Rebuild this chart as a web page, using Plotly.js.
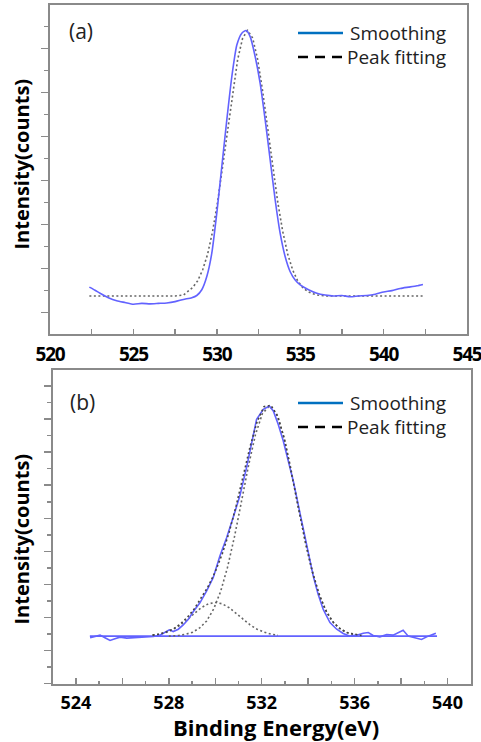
<!DOCTYPE html>
<html>
<head>
<meta charset="utf-8">
<script src="https://cdn.plot.ly/plotly-3.0.1.min.js"></script>
<style>
html,body{margin:0;padding:0;background:#fff;}
#chart{width:481px;height:742px;}
</style>
</head>
<body>
<div id="chart"></div>
<script>
// ---------- Panel (a) ----------
const aSmoothX = [522.36,522.7,523.0,523.5,524.0,524.5,525.0,525.5,526.0,526.5,527.0,527.5,528.0,528.5,528.8,529.1,529.4,529.7,530.0,530.3,530.6,530.9,531.2,531.5,531.76,532.0,532.3,532.6,532.9,533.2,533.5,533.8,534.1,534.4,534.7,535.0,535.5,536.0,536.5,537.0,537.5,538.0,538.5,539.0,539.5,540.0,540.5,541.0,541.5,542.0,542.36];
const aSmoothY = [0.58,0.51,0.44,0.34,0.27,0.23,0.19,0.21,0.20,0.21,0.22,0.25,0.30,0.34,0.39,0.52,0.82,1.35,2.26,3.32,4.38,5.36,6.08,6.35,6.41,6.27,5.82,5.21,4.38,3.47,2.56,1.80,1.27,0.93,0.74,0.63,0.52,0.44,0.40,0.38,0.39,0.36,0.38,0.39,0.42,0.47,0.50,0.55,0.58,0.61,0.64];
const aFitX = [522.36,524.0,526.0,527.5,528.0,528.25,528.55,528.85,529.15,529.45,529.75,530.05,530.35,530.65,530.95,531.25,531.55,531.85,532.15,532.45,532.75,533.05,533.35,533.65,533.95,534.25,534.55,534.85,535.15,535.45,535.75,536.05,536.5,538.0,540.0,542.36];
const aFitY = [0.38,0.38,0.38,0.38,0.40,0.48,0.57,0.72,0.97,1.33,1.85,2.52,3.32,4.18,5.03,5.75,6.24,6.41,6.24,5.75,5.03,4.18,3.32,2.52,1.85,1.33,0.97,0.72,0.57,0.48,0.43,0.40,0.38,0.38,0.38,0.38];

// ---------- Panel (b) ----------
const bSmoothX = [524.61,524.82,525.04,525.25,525.47,525.68,525.9,526.19,526.47,526.76,527.05,527.33,527.62,527.83,528.02,528.19,528.41,528.62,528.84,529.05,529.34,529.63,529.91,530.2,530.49,530.77,531.06,531.35,531.57,531.78,532.07,532.33,532.5,532.71,532.93,533.14,533.36,533.57,533.79,534.0,534.22,534.43,534.65,534.94,535.23,535.51,535.8,536.09,536.37,536.59,536.8,537.09,537.38,537.66,537.88,538.09,538.31,538.6,538.88,539.17,539.5];
const bSmoothY = [0.38,0.41,0.46,0.38,0.30,0.35,0.40,0.37,0.38,0.41,0.40,0.42,0.46,0.54,0.62,0.57,0.64,0.77,0.94,1.17,1.44,1.80,2.20,2.86,3.41,4.02,4.68,5.54,6.29,7.00,7.30,7.40,7.25,6.85,6.34,5.79,5.13,4.42,3.72,2.96,2.25,1.70,1.24,0.84,0.64,0.51,0.43,0.46,0.52,0.54,0.45,0.41,0.48,0.46,0.53,0.61,0.43,0.38,0.33,0.43,0.52];
const bBaseX = [524.6,539.55];
const bBaseY = [0.43,0.43];
const bMainX = [528.0,528.43,528.73,529.03,529.33,529.63,529.93,530.23,530.53,530.83,531.13,531.43,531.73,532.03,532.33,532.63,532.93,533.23,533.53,533.83,534.13,534.43,534.73,535.03,535.33,535.63,535.93,536.23];
const bMainY = [0.43,0.45,0.49,0.55,0.68,0.89,1.25,1.78,2.52,3.45,4.51,5.59,6.53,7.17,7.40,7.17,6.53,5.59,4.51,3.45,2.52,1.78,1.25,0.89,0.68,0.55,0.49,0.45];
const bSmallX = [527.3,527.6,527.9,528.2,528.5,528.8,529.1,529.4,529.7,530.0,530.3,530.6,530.9,531.2,531.5,531.8,532.1,532.4,532.7];
const bSmallY = [0.46,0.49,0.55,0.64,0.77,0.93,1.12,1.29,1.41,1.45,1.41,1.29,1.12,0.93,0.77,0.64,0.55,0.49,0.46];
const bEnvX = [527.3,527.6,527.9,528.2,528.5,528.8,529.1,529.4,529.7,530.0,530.3,530.6,530.9,531.2,531.5,531.8,532.1,532.4,532.7,533.0,533.3,533.6,533.9,534.2,534.5,534.8,535.1,535.4,535.7,536.0,536.3];
const bEnvY = [0.46,0.49,0.56,0.65,0.80,1.00,1.26,1.58,1.94,2.38,2.92,3.58,4.38,5.27,6.17,6.92,7.38,7.42,7.08,6.33,5.34,4.26,3.22,2.33,1.64,1.15,0.83,0.64,0.53,0.48,0.45];

// ---------- Tick labels / texts ----------
const aTickVals = [520,525,530,535,540,545];
const aTickText = ['520','525','530','535','540','545'];
const bTickVals = [524,526,528,530,532,534,536,538,540];
const bTickText = ['524','','528','','532','','536','','540'];
const legendNames = ['Smoothing','Peak fitting'];
const panelLabels = ['(a)','(b)'];
const yTitle = 'Intensity(counts)';
const xTitle = 'Binding Energy(eV)';

const W = 481, H = 742;
const px = v => v / W;
const py = v => 1 - v / H;

const dataColor = 'rgb(98,98,255)';
const fitColor = '#666666';
const fitDash = '2px,2.5px';

const traces = [
  {x: aFitX, y: aFitY, xaxis:'x', yaxis:'y', mode:'lines', name:legendNames[1], line:{color:fitColor, width:1.6, dash:fitDash}, showlegend:false},
  {x: aSmoothX, y: aSmoothY, xaxis:'x', yaxis:'y', mode:'lines', name:legendNames[0], line:{color:dataColor, width:1.6, shape:'spline', smoothing:0.6}, showlegend:false},

  {x: bBaseX, y: bBaseY, xaxis:'x2', yaxis:'y2', mode:'lines', name:'Baseline', line:{color:dataColor, width:1.6}, showlegend:false},
  {x: bMainX, y: bMainY, xaxis:'x2', yaxis:'y2', mode:'lines', name:legendNames[1], line:{color:fitColor, width:1.6, dash:fitDash}, showlegend:false},
  {x: bSmallX, y: bSmallY, xaxis:'x2', yaxis:'y2', mode:'lines', name:legendNames[1], line:{color:fitColor, width:1.6, dash:fitDash}, showlegend:false},
  {x: bSmoothX, y: bSmoothY, xaxis:'x2', yaxis:'y2', mode:'lines', name:legendNames[0], line:{color:dataColor, width:1.6}, showlegend:false},
  {x: bEnvX, y: bEnvY, xaxis:'x2', yaxis:'y2', mode:'lines', name:legendNames[1], line:{color:'#444444', width:1.6, dash:fitDash}, showlegend:false}
];

const axisLine = '#8a8a8a';
const tickFontBig = {family:'Open Sans', size:19, color:'#000', weight:'bold'};
const tickFontSmall = {family:'Open Sans', size:18, color:'#000', weight:'bold'};
const legendFont = {family:'Open Sans', size:19, color:'#222'};
const titleFont = {family:'Open Sans', size:20, color:'#000', weight:'bold'};

// slightly tighter digits so the last label (545) stays inside the page
const aTickTextTight = aTickText.map(t => '<span style="letter-spacing:-1.2px">' + t + '</span>');

// legend drawn as shapes + text (two panels)
function legendBlock(yTop) {
  const shapes = [
    {type:'line', xref:'paper', yref:'paper', x0:px(298), x1:px(343), y0:py(yTop), y1:py(yTop), line:{color:'#0070C0', width:2.5}},
    {type:'line', xref:'paper', yref:'paper', x0:px(298), x1:px(343), y0:py(yTop+24), y1:py(yTop+24), line:{color:'#000', width:2.5, dash:'10px,7px'}}
  ];
  const ann = [
    {text:legendNames[0], xref:'paper', yref:'paper', x:px(349), y:py(yTop), xanchor:'left', yanchor:'middle', borderpad:0, showarrow:false, font:legendFont},
    {text:legendNames[1], xref:'paper', yref:'paper', x:px(346), y:py(yTop+24), xanchor:'left', yanchor:'middle', borderpad:0, showarrow:false, font:legendFont}
  ];
  return {shapes, ann};
}
const lgA = legendBlock(33);
const lgB = legendBlock(403);

const layout = {
  width: W, height: H,
  margin: {l:0, r:0, t:0, b:0},
  paper_bgcolor:'#fff', plot_bgcolor:'#fff',
  font: {family:'Open Sans', color:'#000'},
  showlegend:false,
  xaxis: {
    domain:[px(50), px(467)], range:[520,545], anchor:'y',
    tickmode:'array', tickvals:aTickVals, ticktext:aTickTextTight,
    ticks:'inside', ticklen:5, tickwidth:1.5, tickcolor:axisLine,
    minor:{dtick:2.5, tick0:520, ticks:'inside', ticklen:5, tickwidth:1.5, tickcolor:axisLine, showgrid:false},
    showline:true, linecolor:axisLine, linewidth:2, mirror:true,
    showgrid:false, zeroline:false, tickfont:tickFontBig, ticklabelstandoff:2, ticklabeloverflow:'allow'
  },
  yaxis: {
    domain:[py(334), py(5)], range:[-0.485, 6.99], anchor:'x',
    tick0:0, dtick:1, ticks:'outside', ticklen:7, tickwidth:1.5, tickcolor:axisLine,
    minor:{dtick:0.5, ticks:'outside', ticklen:4, tickwidth:1.5, tickcolor:axisLine, showgrid:false},
    showticklabels:false,
    showline:true, linecolor:axisLine, linewidth:2, mirror:true,
    showgrid:false, zeroline:false
  },
  xaxis2: {
    domain:[px(52.7), px(470.7)], range:[523,541], anchor:'y2',
    tickmode:'array', tickvals:bTickVals, ticktext:bTickText,
    ticks:'inside', ticklen:6, tickwidth:1.5, tickcolor:axisLine,
    minor:{dtick:1, tick0:523, ticks:'inside', ticklen:3, tickwidth:1.5, tickcolor:axisLine, showgrid:false},
    showline:true, linecolor:axisLine, linewidth:2, mirror:true,
    showgrid:false, zeroline:false, tickfont:tickFontSmall, ticklabelstandoff:2, ticklabeloverflow:'allow'
  },
  yaxis2: {
    domain:[py(683.7), py(370)], range:[-1.01, 8.49], anchor:'x2',
    tick0:0, dtick:1, ticks:'outside', ticklen:7, tickwidth:1.5, tickcolor:axisLine,
    minor:{dtick:0.5, ticks:'outside', ticklen:4, tickwidth:1.5, tickcolor:axisLine, showgrid:false},
    showticklabels:false,
    showline:true, linecolor:axisLine, linewidth:2, mirror:true,
    showgrid:false, zeroline:false
  },
  shapes: [...lgA.shapes, ...lgB.shapes],
  annotations: [
    {text:panelLabels[0], xref:'paper', yref:'paper', x:px(81), y:py(31), xanchor:'center', yanchor:'middle', showarrow:false, font:{family:'Open Sans', size:21, color:'#222'}},
    {text:panelLabels[1], xref:'paper', yref:'paper', x:px(82), y:py(402), xanchor:'center', yanchor:'middle', showarrow:false, font:{family:'Open Sans', size:21, color:'#222'}},
    {text:yTitle, xref:'paper', yref:'paper', x:px(21), y:py(164.5), xanchor:'center', yanchor:'middle', textangle:-90, showarrow:false, font:titleFont},
    {text:yTitle, xref:'paper', yref:'paper', x:px(21), y:py(539.5), xanchor:'center', yanchor:'middle', textangle:-90, showarrow:false, font:titleFont},
    {text:xTitle, xref:'paper', yref:'paper', x:px(276), y:py(727), xanchor:'center', yanchor:'middle', borderpad:0, showarrow:false, font:{family:'Open Sans', size:22, color:'#000', weight:'bold'}},
    ...lgA.ann, ...lgB.ann
  ]
};

Plotly.newPlot('chart', traces, layout, {displayModeBar:false, staticPlot:true});
</script>
</body>
</html>
